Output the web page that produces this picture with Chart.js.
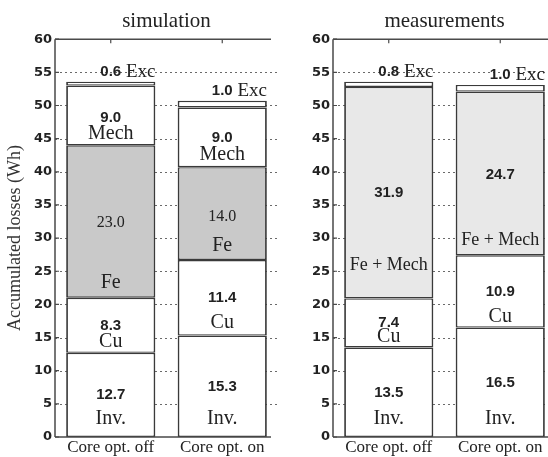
<!DOCTYPE html>
<html>
<head>
<meta charset="utf-8">
<script src="https://cdn.jsdelivr.net/npm/chart.js@4"></script>
<style>
	html, body { margin: 0; padding: 0; background: #fff; overflow: hidden; width: 548px; height: 457px; }
	.panel { position: absolute; top: 0; height: 457px; width: 280px; }
	#simWrap { left: 0; }
	#measWrap { left: 280px; }
</style>
</head>
<body>
<div class="panel" id="simWrap"><canvas id="sim" width="280" height="457"></canvas></div>
<div class="panel" id="measWrap"><canvas id="meas" width="280" height="457"></canvas></div>
<script>

const categories = ['Core opt. off', 'Core opt. on'];
const yTickValues = [0, 5, 10, 15, 20, 25, 30, 35, 40, 45, 50, 55, 60];

// simulation losses (Wh)
const simInv = [12.7, 15.3];
const simCu = [8.3, 11.4];
const simFe = [23.0, 14.0];
const simMech = [9.0, 9.0];
const simExc = [0.6, 1.0];

// measured losses (Wh)
const measInv = [13.5, 16.5];
const measCu = [7.4, 10.9];
const measFeMech = [31.9, 24.7];
const measExc = [0.8, 1.0];

// where the labels sit (axis units): [number, name] per segment, Exc gets one line
const simSpots = [
	[[6.3, 2.7], [7.5, 2.7]],
	[[16.7, 14.3], [21.0, 17.2]],
	[[32.3, 23.2], [33.2, 28.8]],
	[[48.2, 45.8], [45.1, 42.5]],
	[[55.0], [52.2]]
];
const measSpots = [
	[[6.6, 2.7], [8.1, 2.7]],
	[[17.2, 15.1], [21.9, 18.2]],
	[[36.8, 25.9], [39.5, 29.7]],
	[[55.0], [54.6]]
];

const INK = '#222';
const EDGE = '#3a3a3a';
const SANS_NUM = 'bold 15px "Liberation Sans"';
const SERIF_NUM = '16px "Liberation Serif"';
const SERIF_NAME = '20px "Liberation Serif"';

// gridlines, frame and in-bar labels
const framePlugin = {
	id: 'frame',
	beforeDatasetsDraw(chart, args, opts) {
		const { ctx, chartArea: a } = chart;
		const y = chart.scales.y;
		ctx.save();
		ctx.strokeStyle = '#6a6a6a';
		ctx.lineWidth = 1;
		ctx.setLineDash([2, 3]);
		yTickValues.forEach((v) => {
			if (v === 0 || v === 60) return;
			const py = Math.round(y.getPixelForValue(v)) + 0.5;
			ctx.beginPath();
			ctx.moveTo(a.left, py);
			ctx.lineTo(a.right, py);
			ctx.stroke();
		});
		ctx.restore();
	},
	afterDatasetsDraw(chart, args, opts) {
		const { ctx, chartArea: a } = chart;
		const y = chart.scales.y;
		const x = chart.scales.x;
		const right = a.right - opts.trimRight;

		ctx.save();
		ctx.strokeStyle = '#4a4a4a';
		ctx.lineWidth = 1.5;
		ctx.beginPath();
		ctx.moveTo(a.left, a.top);
		ctx.lineTo(a.left, a.bottom);
		ctx.moveTo(a.left, a.top);
		ctx.lineTo(right, a.top);
		ctx.moveTo(a.left, a.bottom);
		ctx.lineTo(right, a.bottom);
		ctx.stroke();

		// inward ticks
		ctx.lineWidth = 1.2;
		ctx.beginPath();
		yTickValues.forEach((v) => {
			const py = y.getPixelForValue(v);
			ctx.moveTo(a.left, py);
			ctx.lineTo(a.left + 4, py);
		});
		categories.forEach((c, j) => {
			const px = x.getPixelForValue(j);
			ctx.moveTo(px, a.top);
			ctx.lineTo(px, a.top + 4);
		});
		ctx.stroke();

		// labels
		ctx.fillStyle = INK;
		ctx.textBaseline = 'middle';
		chart.data.datasets.forEach((ds, i) => {
			const meta = chart.getDatasetMeta(i);
			meta.data.forEach((bar, j) => {
				const spot = opts.spots[i][j];
				const num = ds.data[j].toFixed(1);
				ctx.font = opts.numFonts[i];
				ctx.textAlign = 'center';
				ctx.fillText(num, bar.x, y.getPixelForValue(spot[0]));
				if (spot.length === 1) {
					const w = ctx.measureText(num).width;
					ctx.font = opts.nameFonts[i];
					ctx.textAlign = 'left';
					ctx.fillText(' ' + ds.label, bar.x + w / 2, y.getPixelForValue(spot[0]));
				} else {
					ctx.font = opts.nameFonts[i];
					ctx.fillText(ds.label, bar.x, y.getPixelForValue(spot[1]));
				}
			});
		});
		ctx.restore();
	}
};

const makeDataset = (label, data, fill) => ({
	label: label,
	data: data,
	backgroundColor: fill,
	borderColor: EDGE,
	borderWidth: { left: 1.8, right: 1.8, top: 1.4, bottom: 1.4 },
	borderSkipped: false,
	categoryPercentage: 1,
	barPercentage: 0.8
});

const makeChart = (id, title, datasets, yWidth, padRight, showYTitle, frameOpts) => {
	return new Chart(document.getElementById(id), {
		type: 'bar',
		data: { labels: categories, datasets: datasets },
		plugins: [framePlugin],
		options: {
			responsive: false,
			animation: false,
			layout: { padding: { left: 0, right: padRight, top: 0, bottom: 0 } },
			plugins: {
				legend: { display: false },
				tooltip: { enabled: false },
				title: {
					display: true,
					text: title,
					fullSize: false,
					color: INK,
					font: { family: 'Liberation Serif', size: 21, weight: 'normal', lineHeight: 1.2 },
					padding: { top: 9, bottom: 5 }
				},
				frame: frameOpts
			},
			scales: {
				x: {
					stacked: true,
					grid: { display: false, drawTicks: false },
					border: { display: false },
					ticks: {
						color: INK,
						padding: 0,
						maxRotation: 0,
						font: { family: 'Liberation Serif', size: 17 }
					},
					afterFit: (scale) => { scale.height = 20; }
				},
				y: {
					stacked: true,
					min: 0,
					max: 60,
					grid: { display: false, drawTicks: false },
					border: { display: false },
					afterBuildTicks: (scale) => { scale.ticks = yTickValues.map((v) => ({ value: v })); },
					ticks: {
						color: INK,
						padding: 3,
						font: { family: 'DejaVu Sans', size: 13, weight: 'bold' }
					},
					title: {
						display: showYTitle,
						text: 'Accumulated losses (Wh)',
						color: '#333',
						font: { family: 'Liberation Serif', size: 18 },
						padding: { top: 4, bottom: 0 }
					},
					afterFit: (scale) => { scale.width = yWidth; }
				}
			}
		}
	});
};

// simulation panel
makeChart('sim', 'simulation', [
	makeDataset('Inv.', simInv, '#ffffff'),
	makeDataset('Cu', simCu, '#ffffff'),
	makeDataset('Fe', simFe, '#c9c9c9'),
	makeDataset('Mech', simMech, '#ffffff'),
	makeDataset('Exc', simExc, '#ffffff')
], 55, 2, true, {
	spots: simSpots,
	trimRight: 7,
	numFonts: [SANS_NUM, SANS_NUM, SERIF_NUM, SANS_NUM, SANS_NUM],
	nameFonts: [SERIF_NAME, SERIF_NAME, SERIF_NAME, SERIF_NAME, '19px "Liberation Serif"']
});

// measurements panel
makeChart('meas', 'measurements', [
	makeDataset('Inv.', measInv, '#ffffff'),
	makeDataset('Cu', measCu, '#ffffff'),
	makeDataset('Fe + Mech', measFeMech, '#e8e8e8'),
	makeDataset('Exc', measExc, '#ffffff')
], 53, 4, false, {
	spots: measSpots,
	trimRight: 0,
	numFonts: [SANS_NUM, SANS_NUM, SANS_NUM, SANS_NUM],
	nameFonts: [SERIF_NAME, SERIF_NAME, '18px "Liberation Serif"', '19px "Liberation Serif"']
});

</script>
</body>
</html>
